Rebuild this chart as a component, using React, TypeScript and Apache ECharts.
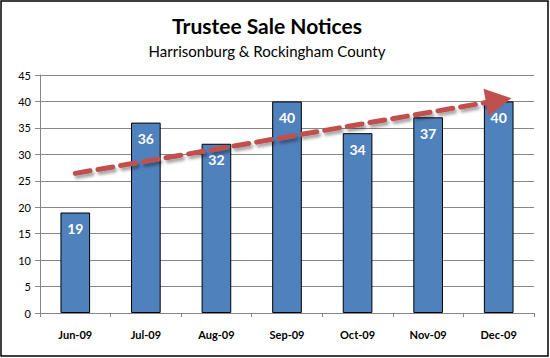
import React, { useEffect, useRef } from "react";
import * as echarts from "echarts";

const categories = ["Jun-09", "Jul-09", "Aug-09", "Sep-09", "Oct-09", "Nov-09", "Dec-09"];
const notices = [19, 36, 32, 40, 34, 37, 40];
const trendStart = { cat: -0.05, value: 26.4 };
const trendEnd = { cat: 5.62, value: 40.2 };

export default function App() {
  const ref = useRef<HTMLDivElement>(null);
  useEffect(() => {
    const chart = echarts.init(ref.current!, null, { renderer: "svg" });
    const font = "Lato, 'DejaVu Sans', sans-serif";
    chart.setOption({
      animation: false,
      backgroundColor: "#ffffff",
      textStyle: { fontFamily: font },
      title: {
        text: "Trustee Sale Notices",
        subtext: "Harrisonburg & Rockingham County",
        left: 262,
        textAlign: "center",
        top: 10,
        itemGap: 7,
        textStyle: { fontFamily: font, fontSize: 21, fontWeight: "bold", color: "#000" },
        subtextStyle: { fontFamily: font, fontSize: 15, color: "#000" },
      },
      grid: { left: 40, right: 16, top: 75, bottom: 45, containLabel: false },
      xAxis: {
        type: "category",
        data: categories,
        axisLine: { lineStyle: { color: "#868686", width: 1 } },
        axisTick: { show: true, length: 4, lineStyle: { color: "#868686" } },
        axisLabel: { color: "#000", fontSize: 11, fontWeight: "bold", margin: 16, fontFamily: font },
      },
      yAxis: {
        type: "value",
        min: 0,
        max: 45,
        interval: 5,
        axisLine: { show: true, lineStyle: { color: "#868686", width: 1 } },
        axisTick: { show: true, length: 5, lineStyle: { color: "#868686" } },
        axisLabel: { color: "#000", fontSize: 11, margin: 9, fontFamily: font },
        splitLine: { lineStyle: { color: "#868686", width: 1 } },
      },
      series: [
        {
          type: "bar",
          data: notices,
          barWidth: "42%",
          itemStyle: { color: "#4F81BD", borderColor: "#000", borderWidth: 1 },
          label: {
            show: true,
            position: "insideTop",
            distance: 9,
            color: "#fff",
            fontSize: 14,
            fontWeight: "bold",
            fontFamily: font,
          },
          markLine: {
            silent: true,
            symbol: ["none", "triangle"],
            symbolSize: [28, 26],
            label: { show: false },
            lineStyle: {
              color: "#C0504D",
              width: 5,
              type: [15, 8],
              cap: "round",
              shadowColor: "rgba(0,0,0,0.35)",
              shadowBlur: 3,
              shadowOffsetX: 2,
              shadowOffsetY: 3,
            },
            itemStyle: { color: "#C0504D" },
            data: [
              [
                { coord: [trendStart.cat, trendStart.value] },
                { coord: [trendEnd.cat, trendEnd.value] },
              ],
            ],
          },
        },
      ],
      graphic: [
        {
          type: "rect",
          shape: { x: 1, y: 1, width: 547, height: 355 },
          style: { fill: "none", stroke: "#000", lineWidth: 1.5 },
          silent: true,
        },
      ],
    });
    return () => chart.dispose();
  }, []);
  return (
    <div
      ref={ref}
      style={{ position: "fixed", left: 0, top: 0, width: 550, height: 358 }}
    />
  );
}
